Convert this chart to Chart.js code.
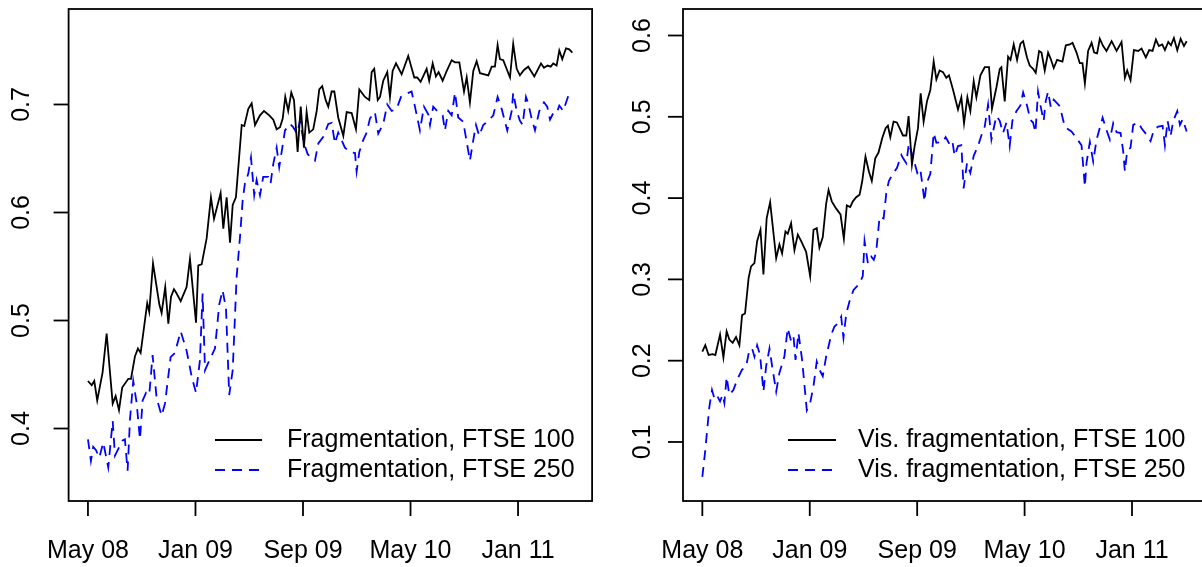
<!DOCTYPE html>
<html>
<head>
<meta charset="utf-8">
<script src="https://cdn.jsdelivr.net/npm/chart.js@4"></script>
<style>
  html, body { margin: 0; padding: 0; background: #fff; overflow: hidden; }
  #wrap { position: relative; width: 1202px; height: 567px; overflow: hidden; }
  canvas { position: absolute; top: 0; }
</style>
</head>
<body>
<div id="wrap">
  <canvas id="leftChart" width="601" height="567" style="left:0"></canvas>
  <canvas id="rightChart" width="620" height="567" style="left:601px"></canvas>
</div>
<script>
// ==========================
// DATA (months since May 08)
// ==========================
const xTickMonths = [0, 8, 16, 24, 32];
const xTickLabels = ["May 08", "Jan 09", "Sep 09", "May 10", "Jan 11"];

const leftYTicks  = [0.4, 0.5, 0.6, 0.7];
const rightYTicks = [0.1, 0.2, 0.3, 0.4, 0.5, 0.6];

const leftLegend  = ["Fragmentation, FTSE 100", "Fragmentation, FTSE 250"];
const rightLegend = ["Vis. fragmentation, FTSE 100", "Vis. fragmentation, FTSE 250"];

// Fragmentation, FTSE 100
const leftT100 = [0.0,0.28,0.47,0.69,1.09,1.39,1.84,2.06,2.31,2.55,3.0,3.2,3.5,3.72,3.92,4.41,4.56,4.84,5.31,5.48,
  5.75,5.98,6.18,6.4,6.6,6.9,7.34,7.59,8.04,8.21,8.46,8.83,9.15,9.38,9.87,10.07,10.32,10.57,10.77,11.01,
  11.44,11.63,11.93,12.18,12.43,12.8,13.1,13.49,13.79,14.04,14.29,14.49,14.68,14.9,15.13,15.33,15.6,15.83,16.07,16.27,
  16.47,16.76,17.02,17.21,17.43,17.69,17.88,18.13,18.33,18.62,19.0,19.25,19.62,19.94,20.19,20.61,20.93,21.11,21.3,21.56,
  21.73,21.97,22.27,22.47,22.67,22.92,23.34,23.83,24.28,24.5,24.75,25.2,25.39,25.65,25.89,26.09,26.39,26.69,27.06,27.31,
  27.63,27.98,28.18,28.42,28.67,28.92,29.17,29.79,30.04,30.28,30.48,30.65,30.9,31.4,31.64,31.9,32.14,32.44,32.76,33.21,
  33.71,33.93,34.2,34.43,34.62,34.87,35.07,35.29,35.57,35.81,36.04];
const leftV100 = [0.444,0.44,0.444,0.426,0.452,0.488,0.423,0.43,0.417,0.438,0.446,0.446,0.467,0.474,0.47,0.516,0.508,0.553,0.515,0.507,
  0.531,0.497,0.522,0.529,0.525,0.518,0.531,0.557,0.498,0.551,0.552,0.576,0.614,0.594,0.618,0.585,0.614,0.572,0.607,0.614,
  0.681,0.68,0.696,0.701,0.681,0.69,0.694,0.69,0.686,0.677,0.679,0.687,0.707,0.694,0.711,0.704,0.656,0.698,0.66,0.693,
  0.674,0.677,0.694,0.714,0.717,0.704,0.698,0.712,0.712,0.688,0.671,0.693,0.692,0.677,0.714,0.707,0.704,0.73,0.733,0.704,
  0.707,0.722,0.73,0.707,0.731,0.738,0.728,0.745,0.725,0.725,0.721,0.733,0.722,0.738,0.726,0.73,0.722,0.731,0.741,0.739,
  0.739,0.712,0.725,0.702,0.731,0.74,0.729,0.727,0.735,0.735,0.755,0.742,0.741,0.725,0.756,0.733,0.727,0.732,0.735,0.726,
  0.738,0.734,0.736,0.735,0.738,0.736,0.75,0.742,0.752,0.751,0.748];

// Fragmentation, FTSE 250
const leftT250 = [0,0.22,0.39,0.6,0.84,1.14,1.51,1.84,2.01,2.25,2.58,2.75,2.95,3.13,3.37,3.62,3.87,4.07,4.32,4.56,
  4.81,5.11,5.48,5.73,6.15,6.47,6.9,7.34,7.72,8.04,8.33,8.53,8.71,9.03,9.45,9.77,10.02,10.27,10.51,10.77,
  11.06,11.31,11.51,11.68,11.93,12.13,12.37,12.55,12.8,13.04,13.42,13.59,13.79,14.04,14.23,14.46,14.66,15.03,15.27,15.57,
  15.77,16.07,16.35,16.57,16.89,17.14,17.51,17.88,18.13,18.38,18.62,19.12,19.49,19.87,19.99,20.19,20.48,20.74,20.98,21.35,
  21.6,21.97,22.27,22.6,22.97,23.29,23.71,24.08,24.33,24.7,25.0,25.32,25.45,25.69,26.06,26.39,26.56,26.81,27.06,27.31,
  27.55,27.92,28.42,28.67,28.87,29.11,29.41,29.79,30.16,30.48,30.78,31.03,31.2,31.53,31.64,31.9,32.14,32.34,32.59,32.76,
  33.01,33.26,33.58,33.93,34.17,34.38,34.62,34.87,35.07,35.36,35.74,36.04];
const leftV250 = [0.39,0.37,0.383,0.38,0.373,0.387,0.364,0.407,0.375,0.381,0.389,0.39,0.361,0.409,0.444,0.424,0.39,0.426,0.433,0.431,
  0.468,0.428,0.412,0.423,0.466,0.47,0.49,0.472,0.448,0.433,0.463,0.525,0.454,0.463,0.474,0.515,0.528,0.511,0.431,0.454,
  0.54,0.577,0.611,0.627,0.636,0.651,0.616,0.63,0.616,0.633,0.633,0.627,0.645,0.66,0.642,0.66,0.676,0.682,0.679,0.673,
  0.685,0.664,0.654,0.651,0.648,0.664,0.67,0.682,0.683,0.664,0.674,0.66,0.656,0.655,0.638,0.656,0.667,0.674,0.687,0.693,
  0.673,0.682,0.7,0.694,0.696,0.707,0.71,0.712,0.698,0.676,0.698,0.691,0.681,0.698,0.693,0.69,0.676,0.694,0.69,0.711,
  0.688,0.684,0.648,0.667,0.681,0.671,0.681,0.685,0.69,0.707,0.696,0.684,0.676,0.694,0.711,0.694,0.685,0.681,0.707,0.701,
  0.687,0.676,0.694,0.702,0.698,0.686,0.692,0.692,0.699,0.694,0.708,0.705];

// Vis. fragmentation, FTSE 100
const rightT100 = [0,0.22,0.47,0.77,0.97,1.32,1.57,1.81,2.01,2.26,2.51,2.76,2.96,3.18,3.45,3.63,3.88,4.08,4.33,4.55,
  4.79,5.05,5.5,5.74,5.94,6.19,6.36,6.61,6.86,7.11,7.36,7.73,8.03,8.28,8.52,8.72,8.97,9.22,9.4,9.64,
  9.97,10.29,10.54,10.76,11.01,11.21,11.46,11.71,11.91,12.15,12.4,12.62,12.88,13.12,13.4,13.65,13.82,14.0,14.24,14.49,
  14.69,14.94,15.19,15.36,15.61,15.81,16.06,16.26,16.48,16.73,16.98,17.23,17.43,17.67,17.92,18.17,18.37,18.66,19.04,19.29,
  19.49,19.74,19.96,20.21,20.41,20.71,21.03,21.35,21.57,21.9,22.15,22.27,22.52,22.77,22.95,23.19,23.44,23.69,23.89,24.18,
  24.38,24.63,24.83,25.08,25.26,25.5,25.75,25.95,26.17,26.42,26.82,27.07,27.37,27.57,27.87,28.11,28.31,28.49,28.73,28.99,
  29.18,29.4,29.6,29.85,30.1,30.48,30.85,31.22,31.47,31.64,31.89,32.14,32.46,32.71,33.03,33.28,33.53,33.78,34.0,34.25,
  34.45,34.7,34.9,35.12,35.37,35.62,35.87,36.07];
const rightV100 = [0.211,0.219,0.207,0.208,0.207,0.232,0.204,0.236,0.226,0.222,0.229,0.219,0.256,0.258,0.302,0.316,0.32,0.347,0.361,0.306,
  0.375,0.395,0.326,0.343,0.332,0.359,0.356,0.369,0.336,0.355,0.347,0.334,0.304,0.361,0.363,0.339,0.352,0.393,0.41,0.396,
  0.387,0.38,0.35,0.391,0.389,0.396,0.401,0.404,0.421,0.451,0.433,0.421,0.449,0.456,0.474,0.486,0.489,0.475,0.494,0.493,
  0.486,0.477,0.477,0.501,0.441,0.464,0.486,0.529,0.494,0.519,0.533,0.568,0.546,0.557,0.555,0.548,0.551,0.534,0.509,0.524,
  0.492,0.524,0.507,0.544,0.524,0.551,0.561,0.561,0.51,0.536,0.559,0.561,0.519,0.574,0.57,0.589,0.57,0.59,0.593,0.573,
  0.563,0.559,0.554,0.581,0.579,0.557,0.579,0.571,0.56,0.57,0.568,0.588,0.589,0.591,0.579,0.566,0.566,0.541,0.581,0.591,
  0.579,0.578,0.596,0.587,0.581,0.593,0.581,0.592,0.548,0.557,0.545,0.582,0.581,0.584,0.573,0.582,0.581,0.595,0.587,0.589,
  0.582,0.592,0.588,0.597,0.582,0.596,0.587,0.593];

// Vis. fragmentation, FTSE 250
const rightT250 = [0,0.22,0.52,0.72,0.89,1.07,1.32,1.51,1.64,1.81,2.01,2.31,2.63,2.96,3.26,3.5,3.71,3.88,4.08,4.3,
  4.55,4.75,5.0,5.2,5.5,5.74,6.11,6.36,6.61,6.79,6.94,7.16,7.43,7.78,8.03,8.28,8.52,8.72,8.97,9.22,
  9.6,9.84,10.16,10.34,10.51,10.72,10.96,11.26,11.71,11.95,12.08,12.33,12.58,12.77,12.95,13.2,13.5,13.7,13.89,14.19,
  14.49,14.82,14.99,15.19,15.38,15.68,16.01,16.23,16.55,16.68,16.98,17.23,17.43,17.92,18.12,18.42,18.62,18.79,19.04,19.29,
  19.46,19.71,19.96,20.21,20.53,20.78,21.03,21.28,21.53,21.78,21.9,22.15,22.39,22.65,22.89,23.09,23.39,23.69,23.89,24.18,
  24.44,24.63,24.81,25.0,25.18,25.42,25.57,25.75,25.95,26.17,26.62,26.99,27.12,27.49,27.81,28.24,28.49,28.61,28.86,29.11,
  29.36,29.81,30.05,30.35,30.6,30.85,31.15,31.34,31.47,31.64,31.89,32.09,32.46,32.71,33.08,33.38,33.63,33.95,34.28,34.45,
  34.65,34.87,35.07,35.37,35.57,35.77,36.07];
const rightV250 = [0.057,0.09,0.143,0.164,0.154,0.158,0.15,0.158,0.148,0.18,0.158,0.164,0.178,0.189,0.193,0.213,0.215,0.205,0.219,0.207,
  0.162,0.193,0.215,0.193,0.162,0.185,0.205,0.24,0.224,0.23,0.201,0.234,0.201,0.139,0.148,0.169,0.199,0.189,0.181,0.205,
  0.232,0.242,0.247,0.254,0.228,0.258,0.273,0.287,0.295,0.304,0.347,0.32,0.328,0.324,0.334,0.377,0.375,0.406,0.421,0.43,
  0.437,0.453,0.448,0.443,0.467,0.451,0.431,0.436,0.396,0.417,0.43,0.48,0.468,0.469,0.475,0.466,0.47,0.452,0.464,0.465,
  0.412,0.443,0.431,0.452,0.464,0.477,0.488,0.515,0.472,0.492,0.501,0.495,0.48,0.493,0.464,0.495,0.507,0.514,0.53,0.514,
  0.496,0.493,0.481,0.531,0.514,0.495,0.519,0.531,0.512,0.521,0.513,0.488,0.486,0.482,0.475,0.465,0.414,0.443,0.469,0.445,
  0.472,0.499,0.486,0.472,0.492,0.481,0.48,0.458,0.433,0.458,0.462,0.49,0.493,0.486,0.478,0.47,0.484,0.488,0.489,0.465,
  0.495,0.476,0.495,0.507,0.49,0.497,0.482];

// ==========================
// R-STYLE AXES PLUGIN
// ==========================
const FONT = '"Liberation Sans", Arial, Helvetica, sans-serif';

const rAxes = {
  id: 'rAxes',
  afterDraw(chart, args, opts) {
    const ctx = chart.ctx;
    const a = chart.chartArea;
    const x = chart.scales.x;
    const y = chart.scales.y;

    ctx.save();
    ctx.strokeStyle = '#000';
    ctx.fillStyle = '#000';
    ctx.lineWidth = 1.8;
    ctx.setLineDash([]);

    // box
    ctx.strokeRect(a.left, a.top, a.right - a.left, a.bottom - a.top);

    // x axis
    ctx.font = '25px ' + FONT;
    ctx.textAlign = 'center';
    ctx.textBaseline = 'middle';
    xTickMonths.forEach((m, i) => {
      const px = x.getPixelForValue(m);
      ctx.beginPath();
      ctx.moveTo(px, a.bottom);
      ctx.lineTo(px, a.bottom + 15);
      ctx.stroke();
      ctx.fillText(xTickLabels[i], px, 551);
    });

    // y axis (rotated labels)
    opts.yTicks.forEach(v => {
      const py = y.getPixelForValue(v);
      ctx.beginPath();
      ctx.moveTo(a.left - 15, py);
      ctx.lineTo(a.left, py);
      ctx.stroke();
      ctx.save();
      ctx.translate(opts.yLabelX, py);
      ctx.rotate(-Math.PI / 2);
      ctx.fillText(v.toFixed(1), 0, 0);
      ctx.restore();
    });

    // legend
    ctx.textAlign = 'left';
    chart.data.datasets.forEach((ds, i) => {
      const ly = opts.legendY[i];
      ctx.strokeStyle = ds.borderColor;
      ctx.lineWidth = ds.borderWidth;
      ctx.setLineDash(ds.borderDash || []);
      ctx.beginPath();
      ctx.moveTo(opts.legendX0, ly);
      ctx.lineTo(opts.legendX1, ly);
      ctx.stroke();
      ctx.setLineDash([]);
      ctx.fillText(ds.label, opts.legendTextX, ly);
    });

    ctx.restore();
  }
};

function pts(t, v) {
  return t.map((m, i) => ({ x: m, y: v[i] }));
}

function makeChart(canvasId, labels, t100, v100, t250, v250, yMin, yMax, padding, axisOpts) {
  return new Chart(document.getElementById(canvasId), {
    type: 'line',
    data: {
      datasets: [
        {
          label: labels[0],
          data: pts(t100, v100),
          borderColor: '#000000',
          borderWidth: 1.8,
          pointRadius: 0,
          tension: 0,
          fill: false
        },
        {
          label: labels[1],
          data: pts(t250, v250),
          borderColor: '#0000ff',
          borderWidth: 1.8,
          borderDash: [10, 7],
          pointRadius: 0,
          tension: 0,
          fill: false
        }
      ]
    },
    options: {
      responsive: false,
      animation: false,
      devicePixelRatio: 1,
      layout: { padding: padding },
      scales: {
        x: { type: 'linear', display: false, min: -1.44, max: 37.51 },
        y: { type: 'linear', display: false, min: yMin, max: yMax }
      },
      plugins: {
        legend: { display: false },
        tooltip: { enabled: false },
        rAxes: axisOpts
      }
    },
    plugins: [rAxes]
  });
}

makeChart('leftChart', leftLegend, leftT100, leftV100, leftT250, leftV250,
  0.3329, 0.7884,
  { left: 68.6, right: 8.9, top: 9, bottom: 66 },
  { yTicks: leftYTicks, yLabelX: 22.5, legendX0: 215, legendX1: 262, legendTextX: 287, legendY: [440, 470] });

makeChart('rightChart', rightLegend, rightT100, rightV100, rightT250, rightV250,
  0.0274, 0.6326,
  { left: 82, right: 15, top: 9, bottom: 66 },
  { yTicks: rightYTicks, yLabelX: 42, legendX0: 187, legendX1: 235, legendTextX: 257, legendY: [440, 470] });
</script>
</body>
</html>
